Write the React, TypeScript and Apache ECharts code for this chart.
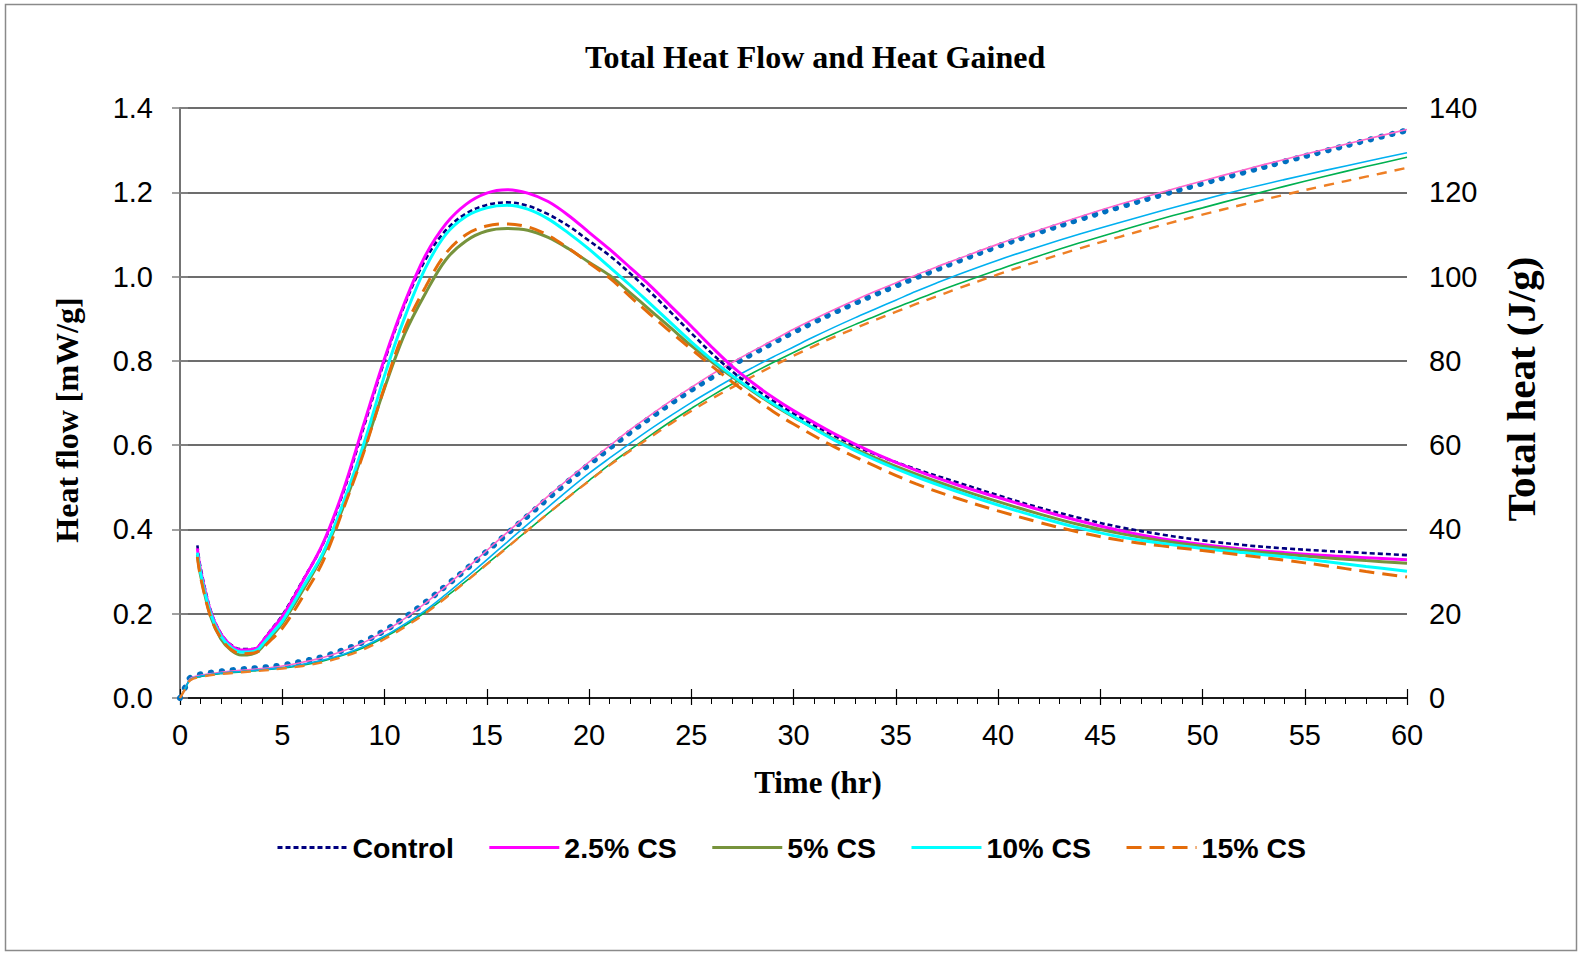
import React, { useEffect, useRef } from "react";
import * as echarts from "echarts";

// ---- Heat flow (mW/g), left axis ----
const TIME_HF = [0.85, 1, 1.5, 2, 2.5, 3, 3.5, 3.8, 4, 4.5, 5, 6, 7, 8, 9, 10, 11, 12, 13, 14, 15, 16, 17, 18, 19, 20, 21, 22, 23, 24, 25, 26, 27, 28, 29, 30, 32, 34, 36, 38, 40, 42, 44, 46, 48, 50, 52, 54, 56, 58, 60];
const HF_CONTROL = [0.362, 0.311, 0.208, 0.153, 0.126, 0.116, 0.116, 0.121, 0.133, 0.165, 0.196, 0.279, 0.366, 0.49, 0.645, 0.80, 0.935, 1.04, 1.11, 1.15, 1.17, 1.176, 1.168, 1.148, 1.12, 1.085, 1.05, 1.008, 0.963, 0.915, 0.866, 0.818, 0.775, 0.738, 0.705, 0.675, 0.622, 0.578, 0.543, 0.512, 0.481, 0.452, 0.427, 0.405, 0.388, 0.374, 0.363, 0.355, 0.349, 0.344, 0.339];
const HF_CS25 = [0.355, 0.305, 0.205, 0.152, 0.125, 0.114, 0.115, 0.12, 0.132, 0.163, 0.193, 0.277, 0.368, 0.495, 0.652, 0.805, 0.94, 1.05, 1.125, 1.172, 1.198, 1.206, 1.198, 1.178, 1.145, 1.105, 1.065, 1.022, 0.978, 0.93, 0.882, 0.833, 0.787, 0.748, 0.713, 0.682, 0.627, 0.58, 0.54, 0.506, 0.476, 0.447, 0.42, 0.397, 0.378, 0.364, 0.353, 0.345, 0.338, 0.333, 0.328];
const HF_CS5 = [0.34, 0.292, 0.193, 0.14, 0.113, 0.102, 0.104, 0.11, 0.12, 0.148, 0.177, 0.255, 0.34, 0.455, 0.59, 0.735, 0.865, 0.96, 1.04, 1.085, 1.108, 1.114, 1.11, 1.093, 1.066, 1.034, 1.003, 0.962, 0.92, 0.878, 0.836, 0.798, 0.762, 0.728, 0.696, 0.667, 0.614, 0.57, 0.531, 0.497, 0.466, 0.437, 0.411, 0.39, 0.373, 0.36, 0.35, 0.341, 0.333, 0.326, 0.32];
const HF_CS10 = [0.345, 0.298, 0.2, 0.147, 0.12, 0.109, 0.11, 0.115, 0.125, 0.153, 0.182, 0.262, 0.345, 0.465, 0.605, 0.765, 0.905, 1.02, 1.1, 1.143, 1.163, 1.169, 1.16, 1.137, 1.103, 1.065, 1.023, 0.98, 0.935, 0.89, 0.845, 0.803, 0.765, 0.73, 0.698, 0.668, 0.612, 0.565, 0.525, 0.49, 0.458, 0.429, 0.403, 0.382, 0.367, 0.355, 0.345, 0.335, 0.324, 0.312, 0.301];
const HF_CS15 = [0.335, 0.288, 0.192, 0.142, 0.115, 0.105, 0.106, 0.11, 0.117, 0.14, 0.165, 0.24, 0.325, 0.45, 0.585, 0.738, 0.877, 0.975, 1.055, 1.1, 1.12, 1.125, 1.118, 1.098, 1.067, 1.032, 0.997, 0.953, 0.91, 0.868, 0.828, 0.788, 0.75, 0.714, 0.68, 0.65, 0.596, 0.55, 0.508, 0.474, 0.444, 0.417, 0.393, 0.374, 0.361, 0.35, 0.339, 0.327, 0.314, 0.3, 0.287];

// ---- Total heat (J/g), right axis ----
const TIME_TH = [0, 0.25, 0.5, 1, 2, 3, 4, 5, 6, 7, 8, 9, 10, 11, 12, 13, 14, 15, 16, 17, 18, 19, 20, 21, 22, 23, 24, 25, 26, 27, 28, 29, 30, 31, 32, 33, 34, 35, 36, 37, 38, 40, 42, 44, 46, 48, 50, 52, 54, 56, 58, 60];
const TH_CONTROL = [0, 2.5, 4.8, 5.6, 6.3, 6.8, 7.2, 7.8, 8.7, 9.8, 11.4, 13.4, 16.0, 19.1, 22.7, 26.6, 30.6, 34.8, 39.0, 43.2, 47.4, 51.5, 55.4, 59.3, 63.0, 66.5, 69.9, 73.1, 76.1, 79.0, 81.7, 84.3, 86.8, 89.2, 91.5, 93.7, 95.8, 97.8, 99.8, 101.7, 103.6, 107.2, 110.5, 113.6, 116.6, 119.4, 122.1, 124.7, 127.3, 129.8, 132.3, 134.7];
const TH_CS25 = [0, 2.3, 4.6, 5.4, 6.1, 6.6, 7.0, 7.6, 8.5, 9.6, 11.2, 13.2, 15.8, 18.9, 22.5, 26.5, 30.7, 35.0, 39.3, 43.6, 47.9, 52.0, 56.0, 59.8, 63.6, 67.1, 70.5, 73.7, 76.8, 79.6, 82.3, 84.9, 87.5, 89.9, 92.2, 94.4, 96.5, 98.5, 100.4, 102.3, 104.1, 107.7, 111.0, 114.2, 117.2, 120.0, 122.7, 125.3, 127.8, 130.2, 132.6, 134.9];
const TH_CS5 = [0, 2.2, 4.3, 5.1, 5.8, 6.2, 6.6, 7.1, 7.8, 8.8, 10.2, 12.0, 14.4, 17.2, 20.4, 24.0, 27.8, 31.8, 35.8, 39.8, 43.8, 47.7, 51.6, 55.4, 58.9, 62.3, 65.6, 68.7, 71.7, 74.5, 77.1, 79.6, 82.0, 84.3, 86.5, 88.6, 90.6, 92.6, 94.5, 96.4, 98.2, 101.6, 104.9, 108.0, 110.9, 113.7, 116.3, 118.9, 121.4, 123.8, 126.1, 128.3];
const TH_CS10 = [0, 2.2, 4.4, 5.2, 5.9, 6.3, 6.7, 7.2, 8.0, 9.0, 10.4, 12.3, 14.7, 17.6, 20.8, 24.6, 28.6, 32.8, 37.0, 41.2, 45.3, 49.4, 53.3, 56.9, 60.4, 63.8, 67.0, 70.1, 73.0, 75.8, 78.4, 80.9, 83.3, 85.7, 88.0, 90.2, 92.3, 94.4, 96.5, 98.5, 100.4, 103.9, 107.1, 110.1, 112.9, 115.6, 118.2, 120.7, 123.0, 125.2, 127.3, 129.4];
const TH_CS15 = [0, 2.1, 4.2, 5.0, 5.7, 6.1, 6.5, 7.0, 7.6, 8.5, 9.8, 11.6, 14.0, 16.9, 20.1, 23.8, 27.7, 31.7, 35.7, 39.8, 43.8, 47.7, 51.5, 55.2, 58.6, 61.9, 65.1, 68.1, 71.0, 73.7, 76.3, 78.8, 81.2, 83.5, 85.7, 87.7, 89.7, 91.6, 93.5, 95.3, 97.1, 100.5, 103.7, 106.7, 109.5, 112.2, 114.7, 117.1, 119.4, 121.6, 123.7, 125.8];

const LEGEND_NAMES = ["Control", "2.5% CS", "5% CS", "10% CS", "15% CS"];
const X_TICKS = { min: 0, max: 60, interval: 5 };
const Y_LEFT = { min: 0, max: 1.4, interval: 0.2 };
const Y_RIGHT = { min: 0, max: 140, interval: 20 };

const zip = (xs: number[], ys: number[]) => xs.map((x, i) => [x, ys[i]]);

const SANS = "'Liberation Sans', Arial, sans-serif";
const SERIF = "'Liberation Serif', 'Times New Roman', serif";

function buildOption() {
  const hf = (name: string, data: number[], color: string, type: any, width: number) => ({
    name,
    type: "line",
    xAxisIndex: 0,
    yAxisIndex: 0,
    data: zip(TIME_HF, data),
    symbol: "none",
    smooth: 0.35,
    lineStyle: { color, width, type },
    itemStyle: { color },
    z: 3,
  });
  const th = (name: string, data: number[], color: string, type: any, width: number, cap?: string) => ({
    name,
    type: "line",
    xAxisIndex: 0,
    yAxisIndex: 1,
    data: zip(TIME_TH, data),
    symbol: "none",
    smooth: 0.35,
    lineStyle: { color, width, type, cap: cap || "butt" },
    itemStyle: { color },
    z: 2,
  });
  return {
    animation: false,
    backgroundColor: "#ffffff",
    title: {
      text: "Total Heat Flow and Heat Gained",
      left: 580,
      top: 36,
      textStyle: { fontFamily: SERIF, fontWeight: "bold", fontSize: 32, color: "#000" },
    },
    graphic: [
      {
        type: "rect",
        shape: { x: 5.5, y: 4.5, width: 1571, height: 946 },
        style: { fill: "none", stroke: "#8a8a8a", lineWidth: 1.5 },
        silent: true,
        z: 0,
      },
      {
        type: "text",
        x: 67,
        y: 420,
        rotation: Math.PI / 2,
        style: {
          text: "Heat flow [mW/g]",
          fontFamily: SERIF,
          fontWeight: "bold",
          fontSize: 32,
          fill: "#000",
          align: "center",
          verticalAlign: "middle",
        },
        z: 10,
      },
      {
        type: "text",
        x: 1521,
        y: 389,
        rotation: Math.PI / 2,
        style: {
          text: "Total heat (J/g)",
          fontFamily: SERIF,
          fontWeight: "bold",
          fontSize: 41,
          fill: "#000",
          align: "center",
          verticalAlign: "middle",
        },
        z: 10,
      },
      {
        type: "text",
        x: 818,
        y: 782,
        style: {
          text: "Time (hr)",
          fontFamily: SERIF,
          fontWeight: "bold",
          fontSize: 31,
          fill: "#000",
          align: "center",
          verticalAlign: "middle",
        },
        z: 10,
      },
    ],
    legend: {
      data: LEGEND_NAMES,
      left: 271,
      top: 828,
      itemWidth: 70,
      itemHeight: 14,
      itemGap: 34,
      itemStyle: { opacity: 0 },
      lineStyle: { width: 3 },
      textStyle: { fontFamily: SANS, fontWeight: "bold", fontSize: 28.5, color: "#000" },
    },
    grid: { left: 180, right: 173, top: 108, bottom: 257, containLabel: false },
    xAxis: [
      {
        type: "value",
        position: "bottom",
        ...X_TICKS,
        axisLine: { show: true, lineStyle: { color: "#000", width: 1.5 } },
        axisTick: { show: true, inside: false, length: 7, lineStyle: { color: "#000", width: 1.2 } },
        minorTick: { show: true, splitNumber: 5, length: 6, lineStyle: { color: "#000", width: 1 } },
        axisLabel: { fontFamily: SANS, fontSize: 29, color: "#000", margin: 22 },
        splitLine: { show: false },
        minorSplitLine: { show: false },
      },
      {
        type: "value",
        position: "bottom",
        ...X_TICKS,
        axisLine: { show: false },
        axisTick: { show: true, inside: true, length: 9, lineStyle: { color: "#000", width: 1.2 } },
        axisLabel: { show: false },
        splitLine: { show: false },
      },
    ],
    yAxis: [
      {
        type: "value",
        position: "left",
        ...Y_LEFT,
        axisLine: { show: true, lineStyle: { color: "#000", width: 1.5 } },
        axisTick: { show: true, inside: false, length: 8, lineStyle: { color: "#808080", width: 1.5 } },
        axisLabel: {
          fontFamily: SANS,
          fontSize: 29,
          color: "#000",
          margin: 27,
          formatter: (v: number) => v.toFixed(1),
        },
        splitLine: { show: true, lineStyle: { color: "#3c3c3c", width: 1.6 } },
      },
      {
        type: "value",
        position: "right",
        ...Y_RIGHT,
        axisLine: { show: true, lineStyle: { color: "#868686", width: 1.5 } },
        axisTick: { show: true, inside: false, length: 8, lineStyle: { color: "#868686", width: 1.5 } },
        axisLabel: { fontFamily: SANS, fontSize: 29, color: "#000", margin: 22 },
        splitLine: { show: false },
      },
    ],
    series: [
      th("Control total heat", TH_CONTROL, "#0070C0", [0.5, 10.5], 6, "round"),
      th("2.5% CS total heat", TH_CS25, "#FF66CC", "solid", 1.6),
      th("5% CS total heat", TH_CS5, "#00B050", "solid", 1.6),
      th("10% CS total heat", TH_CS10, "#00B0F0", "solid", 1.6),
      th("15% CS total heat", TH_CS15, "#EE7F25", [10, 8], 2.4),
      hf("Control", HF_CONTROL, "#000080", [5, 3], 2.6),
      hf("2.5% CS", HF_CS25, "#FF00FF", "solid", 3),
      hf("5% CS", HF_CS5, "#77933C", "solid", 3),
      hf("10% CS", HF_CS10, "#00FFFF", "solid", 3),
      hf("15% CS", HF_CS15, "#E46C0A", [15, 8], 3),
    ],
  };
}

export default function App() {
  const ref = useRef<HTMLDivElement>(null);
  useEffect(() => {
    if (!ref.current) return;
    const chart = echarts.init(ref.current, null, { renderer: "svg" });
    chart.setOption(buildOption() as any);
    return () => chart.dispose();
  }, []);
  return (
    <div
      ref={ref}
      style={{ position: "absolute", left: 0, top: 0, width: 1580, height: 955, background: "#fff" }}
    />
  );
}
